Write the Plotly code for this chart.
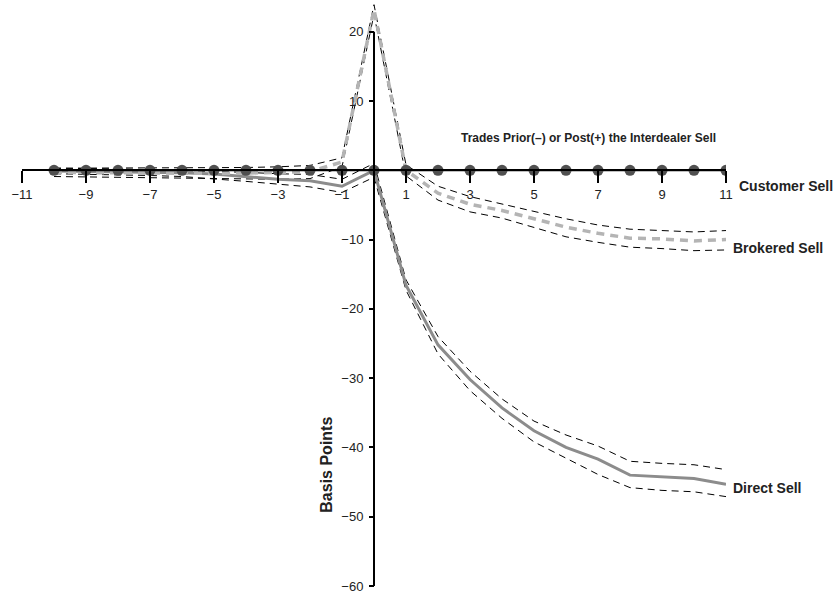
import plotly.graph_objects as go

# ---- data ----
periods = [-10, -9, -8, -7, -6, -5, -4, -3, -2, -1, 0, 1, 2, 3, 4, 5, 6, 7, 8, 9, 10, 11]

customer_mean = [0.0, 0.0, 0.0, 0.0, 0.0, 0.0, 0.0, 0.0, 0.0, 0.0, 0.0,
                 0.0, 0.0, 0.0, 0.0, 0.0, 0.0, 0.0, 0.0, 0.0, 0.0, 0.0]

brokered_mean = [-0.3, -0.35, -0.4, -0.4, -0.45, -0.45, -0.4, -0.35, -0.2, 1.2, 23.2,
                 0.0, -3.3, -4.9, -5.8, -7.0, -8.2, -9.1, -9.8, -9.9, -10.2, -10.0]
brokered_upper = [0.3, 0.3, 0.3, 0.3, 0.3, 0.3, 0.4, 0.5, 0.7, 1.8, 23.9,
                  0.8, -2.3, -3.8, -4.9, -5.9, -7.0, -7.9, -8.5, -8.7, -8.9, -8.7]
brokered_lower = [-0.9, -0.95, -1.0, -1.0, -1.05, -1.1, -1.2, -1.3, -1.2, 0.5, 22.5,
                  -0.8, -4.3, -6.0, -6.9, -8.2, -9.6, -10.4, -11.1, -11.3, -11.6, -11.5]

direct_mean = [-0.1, -0.15, -0.2, -0.25, -0.35, -0.55, -0.9, -1.3, -1.5, -2.3, 0.0,
               -16.6, -25.2, -30.2, -34.3, -37.6, -40.0, -41.7, -44.0, -44.3, -44.5, -45.3]
direct_upper = [0.3, 0.3, 0.2, 0.1, 0.0, -0.1, -0.3, -0.5, -0.6, -1.3, 1.0,
                -15.8, -24.0, -29.0, -33.0, -36.2, -38.2, -39.8, -42.0, -42.3, -42.5, -43.2]
direct_lower = [-0.5, -0.55, -0.65, -0.75, -0.9, -1.2, -1.6, -2.0, -2.4, -3.2, -1.0,
                -17.3, -26.5, -31.8, -35.8, -39.2, -41.5, -43.9, -45.8, -46.2, -46.4, -47.1]

x_tick_vals = [-11, -9, -7, -5, -3, -1, 1, 3, 5, 7, 9, 11]
x_tick_text = ["\u221211", "\u22129", "\u22127", "\u22125", "\u22123", "\u22121",
               "1", "3", "5", "7", "9", "11"]
y_tick_vals = [20, 10, -10, -20, -30, -40, -50, -60]
y_tick_text = ["20", "10", "\u221210", "\u221220", "\u221230", "\u221240", "\u221250", "\u221260"]

series_labels = ["Customer Sell", "Brokered Sell", "Direct Sell"]
label_y = [-2.2, -11.2, -45.9]
x_title = "Trades Prior(\u2013) or Post(+) the Interdealer Sell"
y_title = "Basis Points"

Y_RANGE = [-60, 24]
X_RANGE = [-11, 11]
FONT = "Liberation Sans, Arial, Helvetica, sans-serif"

fig = go.Figure()

band_style = dict(color="black", width=1, dash="7px,5px")

# confidence bands
for band in (direct_upper, direct_lower, brokered_upper, brokered_lower):
    fig.add_trace(go.Scatter(x=periods, y=band, mode="lines", line=band_style,
                             hoverinfo="skip", showlegend=False))

# direct sell mean
fig.add_trace(go.Scatter(x=periods, y=direct_mean, mode="lines",
                         line=dict(color="#8c8c8c", width=3), showlegend=False,
                         name="Direct Sell"))
# brokered sell mean
fig.add_trace(go.Scatter(x=periods, y=brokered_mean, mode="lines",
                         line=dict(color="#b4b4b4", width=3.5, dash="8px,6px"),
                         showlegend=False, name="Brokered Sell"))
# customer sell mean
fig.add_trace(go.Scatter(x=periods, y=customer_mean, mode="lines+markers",
                         line=dict(color="black", width=2),
                         marker=dict(size=11, color="#505050",
                                     line=dict(width=0)),
                         showlegend=False, name="Customer Sell"))

# vertical axis line (from -60 to 20)
fig.add_shape(type="line", xref="x", yref="y", x0=0, x1=0,
              y0=y_tick_vals[-1], y1=y_tick_vals[0],
              line=dict(color="black", width=2), layer="above")

annotations = [
    dict(text="<b>%s</b>" % x_title, x=10.75, y=4.6, xref="x", yref="y",
         xanchor="right", yanchor="middle", showarrow=False,
         font=dict(size=12, color="#222", family=FONT)),
    dict(text="<b>%s</b>" % y_title, x=-1.47, y=-42.5, xref="x", yref="y",
         textangle=-90, xanchor="center", yanchor="middle", showarrow=False,
         font=dict(size=16, color="#222", family=FONT)),
]
label_x_paper = [1.015, 1.007, 1.007]
for lab, ly, lx in zip(series_labels, label_y, label_x_paper):
    annotations.append(dict(text="<b>%s</b>" % lab, x=lx, y=ly, xref="paper", yref="y",
                            xanchor="left", yanchor="middle", showarrow=False,
                            font=dict(size=14, color="#222", family=FONT)))

zero_frac = (0 - Y_RANGE[0]) / (Y_RANGE[1] - Y_RANGE[0])

fig.update_layout(
    width=836, height=598,
    margin=dict(l=22, r=110, t=4, b=9, pad=0),
    paper_bgcolor="white", plot_bgcolor="white",
    showlegend=False,
    hovermode=False,
    font=dict(family=FONT, size=13, color="#222"),
    xaxis=dict(range=X_RANGE, domain=[0, 1], anchor="free", position=zero_frac,
               showline=True, linecolor="black", linewidth=2,
               tickmode="array", tickvals=x_tick_vals, ticktext=x_tick_text,
               ticks="outside", ticklen=12, tickwidth=2, tickcolor="black",
               showgrid=False, zeroline=False,
               tickfont=dict(size=13, family=FONT, color="#222")),
    yaxis=dict(range=Y_RANGE, domain=[0, 1], anchor="free", position=0.5,
               showline=False,
               tickmode="array", tickvals=y_tick_vals, ticktext=y_tick_text,
               ticks="outside", ticklen=5, tickwidth=2, tickcolor="black",
               ticklabelstandoff=3,
               showgrid=False, zeroline=False,
               tickfont=dict(size=13, family=FONT, color="#222")),
    yaxis2=dict(range=Y_RANGE, overlaying="y", anchor="free", position=0.5,
                side="left", showline=False,
                tickmode="array", tickvals=y_tick_vals,
                ticks="inside", ticklen=5, tickwidth=2, tickcolor="black",
                showticklabels=False, showgrid=False, zeroline=False),
    annotations=annotations,
)

fig.write_html("out.html",
               config={"displayModeBar": False, "staticPlot": True},
               post_script="document.body.style.margin='0';document.body.style.overflow='hidden';")
